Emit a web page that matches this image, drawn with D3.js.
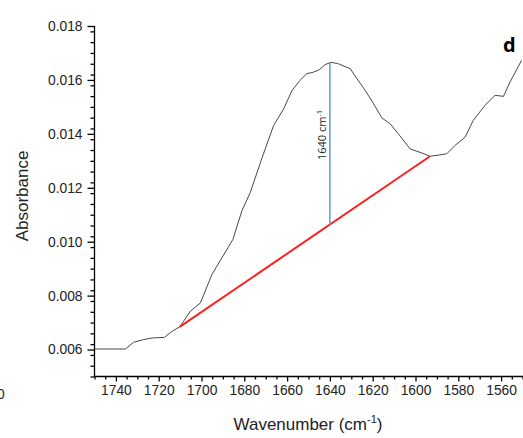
<!DOCTYPE html>
<html>
<head>
<meta charset="utf-8">
<script src="https://cdn.jsdelivr.net/npm/d3@7"></script>
<style>
    body { margin: 0; background: #fff; }
    text { font-family: "Liberation Sans", Arial, sans-serif; }
</style>
</head>
<body>
<script>
// spectrum (wavenumber, absorbance)
var wavenumbers = [1750, 1735.5, 1731.7, 1727, 1723.1, 1717.3, 1713.7, 1710.2,
    1705.2, 1700.5, 1695.1, 1690.4, 1685.3, 1681.1, 1677.2, 1671.7, 1666.3,
    1661.6, 1657.7, 1653.9, 1650.7, 1648.4, 1645.3, 1642.2, 1639.5, 1636.4,
    1632.8, 1630.5, 1627.4, 1623.5, 1619.6, 1615.7, 1611.8, 1608, 1602.5,
    1597, 1593.2, 1588.5, 1585.4, 1581.5, 1576.8, 1573, 1567.5, 1562.8,
    1558.9, 1555.8, 1550.4];
var absorbance = [0.00602, 0.00602, 0.00627, 0.00637, 0.00643, 0.00645,
    0.00668, 0.00684, 0.00742, 0.00773, 0.00879, 0.00941, 0.01009, 0.01115,
    0.01183, 0.01311, 0.01431, 0.01493, 0.01561, 0.01599, 0.01624, 0.01627,
    0.01636, 0.01657, 0.01665, 0.01661, 0.01649, 0.01642, 0.01605, 0.01561,
    0.01512, 0.01459, 0.01437, 0.01400, 0.01344, 0.01329, 0.01317, 0.01322,
    0.01326, 0.01357, 0.01388, 0.01450, 0.01506, 0.01543, 0.01539, 0.01593,
    0.01673];

// baseline drawn under the amide band, and the peak marker
var baseline = [[1710.2, 0.00684], [1593.2, 0.01317]];
var peakWave = 1640;
var peakLabel = "1640 cm";

var xTicks = [1740, 1720, 1700, 1680, 1660, 1640, 1620, 1600, 1580, 1560];
var yTicks = [0.006, 0.008, 0.010, 0.012, 0.014, 0.016, 0.018];

var width = 523, height = 438;
var margin = {left: 94.5, right: 522.5, top: 26, bottom: 376.5};

var svg = d3.select("body").append("svg")
    .attr("width", width)
    .attr("height", height);

var x = d3.scaleLinear().domain([1750, 1550])
    .range([margin.left, margin.right]);
var y = d3.scaleLinear().domain([0.005, 0.018])
    .range([margin.bottom, margin.top]);

// minor ticks
var xMinor = d3.range(1550, 1751, 5).filter(function(v) { return v % 20 != 0; });
var yMinor = d3.range(0, 33).map(function(i) { return 0.005 + i * 0.0004; })
    .filter(function(v) { return v <= 0.01801; });

var xAxisMinor = d3.axisBottom(x).tickValues(xMinor).tickSize(3)
    .tickFormat("");
var yAxisMinor = d3.axisLeft(y).tickValues(yMinor).tickSize(4)
    .tickFormat("");

svg.append("g")
    .attr("transform", "translate(0," + margin.bottom + ")")
    .call(xAxisMinor)
    .call(function(g) { g.select(".domain").remove(); });

svg.append("g")
    .attr("transform", "translate(" + margin.left + ",0)")
    .call(yAxisMinor)
    .call(function(g) { g.select(".domain").remove(); });

var xAxis = d3.axisBottom(x).tickValues(xTicks).tickSize(5).tickPadding(4)
    .tickFormat(d3.format("d"));
var yAxis = d3.axisLeft(y).tickValues(yTicks).tickSize(7).tickPadding(5)
    .tickFormat(d3.format(".3f"));

var gx = svg.append("g")
    .attr("transform", "translate(0," + margin.bottom + ")")
    .call(xAxis);
gx.select(".domain").attr("d", "M" + margin.left + ",0H" + (margin.right + 1));

var gy = svg.append("g")
    .attr("transform", "translate(" + margin.left + ",0)")
    .call(yAxis);
gy.select(".domain").attr("d", "M0," + margin.top + "V" + margin.bottom);

svg.selectAll(".domain, .tick line")
    .attr("stroke", "#000")
    .attr("stroke-width", 1.3);

svg.selectAll(".tick text")
    .attr("fill", "#222")
    .style("font-size", "13.8px")
    .style("font-family", "'Liberation Sans', Arial, sans-serif");

// spectrum
var line = d3.line()
    .x(function(d, i) { return x(wavenumbers[i]); })
    .y(function(d) { return y(d); });

svg.append("path")
    .datum(absorbance)
    .attr("d", line)
    .attr("fill", "none")
    .attr("stroke", "#333")
    .attr("stroke-width", 0.9);

// baseline
svg.append("line")
    .attr("x1", x(baseline[0][0]))
    .attr("y1", y(baseline[0][1]))
    .attr("x2", x(baseline[1][0]))
    .attr("y2", y(baseline[1][1]))
    .attr("stroke", "#ff1e1e")
    .attr("stroke-width", 2);

// peak height line
var slope = (baseline[1][1] - baseline[0][1]) / (baseline[1][0] - baseline[0][0]);
var baseAtPeak = baseline[0][1] + (peakWave - baseline[0][0]) * slope;
var peakIdx = d3.bisector(function(d) { return -d; }).left(wavenumbers, -peakWave);
var w0 = wavenumbers[peakIdx - 1], w1 = wavenumbers[peakIdx];
var a0 = absorbance[peakIdx - 1], a1 = absorbance[peakIdx];
var peakAbs = a0 + (peakWave - w0) / (w1 - w0) * (a1 - a0);

svg.append("line")
    .attr("x1", x(peakWave))
    .attr("x2", x(peakWave))
    .attr("y1", y(peakAbs))
    .attr("y2", y(baseAtPeak))
    .attr("stroke", "#5b9bd5")
    .attr("stroke-width", 1.5);

var pl = svg.append("text")
    .attr("transform", "translate(" + (x(peakWave) - 4) + ",135) rotate(-90)")
    .attr("text-anchor", "middle")
    .style("font-size", "11px")
    .style("font-family", "'Open Sans', sans-serif")
    .attr("fill", "#222");
pl.append("tspan").text(peakLabel);
pl.append("tspan").attr("dy", -4).style("font-size", "7.5px").text("-1");

// axis titles
svg.append("text")
    .attr("transform", "translate(28,196) rotate(-90)")
    .attr("text-anchor", "middle")
    .style("font-size", "17px")
    .attr("fill", "#222")
    .text("Absorbance");

var xt = svg.append("text")
    .attr("x", 308)
    .attr("y", 430)
    .attr("text-anchor", "middle")
    .style("font-size", "17px")
    .attr("fill", "#222");
xt.append("tspan").text("Wavenumber (cm");
xt.append("tspan").attr("dy", -7).style("font-size", "11px").text("-1");
xt.append("tspan").attr("dy", 7).text(")");

// panel letter
svg.append("text")
    .attr("x", 503)
    .attr("y", 52)
    .style("font-size", "20px")
    .style("font-weight", "bold")
    .style("font-family", "'Open Sans', sans-serif")
    .text("d");

// clipped label from the neighbouring panel
svg.append("text")
    .attr("x", -3)
    .attr("y", 399)
    .style("font-size", "13.8px")
    .attr("fill", "#222")
    .text("0");
</script>
</body>
</html>
